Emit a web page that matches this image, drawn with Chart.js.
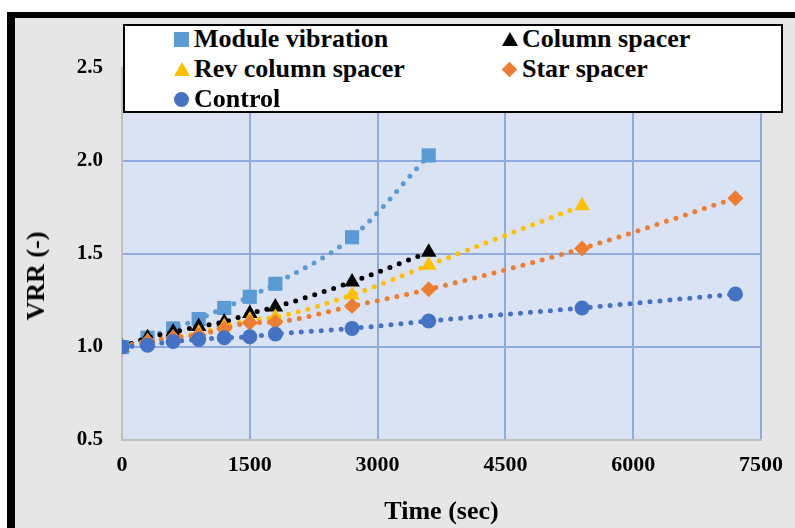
<!DOCTYPE html>
<html>
<head>
<meta charset="utf-8">
<script src="https://cdn.jsdelivr.net/npm/chart.js@4.4.1/dist/chart.umd.min.js"></script>
<style>
    body { margin: 0; background: #fff; font-family: "Liberation Serif", "Times New Roman", serif; }
    #frame { position: absolute; left: 7px; top: 12px; width: 800px; height: 530px; background: #e7e6e6;
             border-left: 8px solid #000; border-top: 6px solid #000; }
    #wrap { position: absolute; left: 0; top: 0; width: 795px; height: 528px; }
    #ytitle { position: absolute; left: 36px; top: 276px; transform: translate(-50%, -50%) rotate(-90deg);
              font-weight: bold; font-size: 26px; white-space: nowrap; }
    #legend { position: absolute; left: 123px; top: 24px; width: 656px; height: 85px; background: #fff;
              border: 2px solid #000; }
    .item { position: absolute; font-weight: bold; font-size: 26px; line-height: 30px; white-space: nowrap; }
    .mk { position: absolute; }
</style>
</head>
<body>
<div id="frame"></div>
<div id="wrap"><canvas id="vrrChart"></canvas></div>
<div id="ytitle">VRR (-)</div>
<div id="legend"></div>

<script>
const timeSec = [0, 300, 600, 900, 1200, 1500, 1800, 2700, 3600, 5400, 7200];

const seriesNames = ["Module vibration", "Column spacer", "Rev column spacer", "Star spacer", "Control"];
const moduleVibration = [1.00, 1.05, 1.10, 1.15, 1.21, 1.27, 1.34, 1.59, 2.03];
const columnSpacer = [1.00, 1.05, 1.08, 1.11, 1.135, 1.18, 1.215, 1.35, 1.51];
const revColumnSpacer = [1.00, 1.03, 1.05, 1.075, 1.11, 1.145, 1.16, 1.28, 1.44, 1.76];
const starSpacer = [1.00, 1.03, 1.05, 1.065, 1.10, 1.13, 1.135, 1.22, 1.31, 1.53, 1.80];
const control = [1.00, 1.01, 1.03, 1.04, 1.05, 1.055, 1.07, 1.10, 1.14, 1.21, 1.285];

const xTicks = [0, 1500, 3000, 4500, 6000, 7500];
const yTicks = [0.5, 1.0, 1.5, 2.0, 2.5];

const colors = ["#5b9bd5", "#000000", "#ffc000", "#ed7d31", "#4472c4"];
const shapes = ["rect", "triangle", "triangle", "rectRot", "circle"];
const radii = [10, 9, 9, 8, 7.5];

const allValues = [moduleVibration, columnSpacer, revColumnSpacer, starSpacer, control];

const datasets = allValues.map((vals, i) => ({
    label: seriesNames[i],
    data: vals.map((v, j) => ({ x: timeSec[j], y: v })),
    showLine: true,
    borderColor: colors[i],
    backgroundColor: colors[i],
    borderWidth: 5,
    borderDash: [0, 10],
    borderCapStyle: "round",
    cubicInterpolationMode: "monotone",
    pointStyle: shapes[i],
    pointRadius: radii[i],
    pointBorderWidth: 0,
    order: 5 - i
}));

// light blue plot area
const plotBg = {
    id: "plotBg",
    beforeDraw(chart) {
        const { ctx, chartArea: a } = chart;
        ctx.save();
        ctx.fillStyle = "#dae3f3";
        ctx.fillRect(a.left, a.top, a.right - a.left, a.bottom - a.top);
        ctx.restore();
    }
};

const tickFont = { family: "'Liberation Serif', 'Times New Roman', serif", size: 22, weight: "bold" };

new Chart(document.getElementById("vrrChart").getContext("2d"), {
    type: "scatter",
    data: { datasets },
    options: {
        responsive: true,
        maintainAspectRatio: false,
        animation: false,
        events: [],
        layout: { padding: { top: 68, right: 28, left: 0, bottom: 0 } },
        plugins: {
            legend: { display: false },
            tooltip: { enabled: false }
        },
        scales: {
            x: {
                type: "linear",
                min: 0,
                max: 7500,
                afterBuildTicks: s => { s.ticks = xTicks.map(v => ({ value: v })); },
                afterFit: s => { s.height = 88; },
                ticks: { color: "#000", font: tickFont, padding: 12, maxRotation: 0, callback: v => String(v) },
                grid: {
                    drawTicks: false,
                    lineWidth: 2,
                    color: c => (c.tick && c.tick.value === 0 ? "rgba(0,0,0,0)" : "#8faadc")
                },
                border: { color: "#bfbfbf", width: 2 },
                title: {
                    display: true,
                    text: "Time (sec)",
                    color: "#000",
                    font: { family: "'Liberation Serif', 'Times New Roman', serif", size: 26, weight: "bold" },
                    padding: { top: 0, bottom: 0 }
                }
            },
            y: {
                min: 0.5,
                max: 2.5,
                afterBuildTicks: s => { s.ticks = yTicks.map(v => ({ value: v })); },
                afterFit: s => { s.width = 122; },
                ticks: { color: "#000", font: { ...tickFont, size: 21 }, padding: 19, callback: v => v.toFixed(1) },
                grid: {
                    drawTicks: false,
                    lineWidth: 2,
                    color: c => (c.tick && c.tick.value === 0.5 ? "rgba(0,0,0,0)" : "#8faadc")
                },
                border: { color: "#bfbfbf", width: 2 }
            }
        }
    },
    plugins: [plotBg]
});

// legend box drawn over the top of the plot
const legend = document.getElementById("legend");
const legendPos = [[57, 0], [385, 0], [57, 1], [385, 1], [57, 2]];
seriesNames.forEach((name, i) => {
    const [lx, row] = legendPos[i];
    const cy = 13 + row * 30;
    const mk = document.createElement("div");
    mk.className = "mk";
    if (shapes[i] === "rect") {
        Object.assign(mk.style, { left: (lx - 8) + "px", top: (cy - 7) + "px", width: "15px", height: "15px", background: colors[i] });
    } else if (shapes[i] === "triangle") {
        Object.assign(mk.style, { left: (lx - 8) + "px", top: (cy - 7) + "px", width: 0, height: 0,
            borderLeft: "8px solid transparent", borderRight: "8px solid transparent", borderBottom: "14px solid " + colors[i] });
    } else if (shapes[i] === "rectRot") {
        Object.assign(mk.style, { left: (lx - 6) + "px", top: (cy - 5) + "px", width: "11px", height: "11px",
            background: colors[i], transform: "rotate(45deg)" });
    } else {
        Object.assign(mk.style, { left: (lx - 8) + "px", top: (cy - 7) + "px", width: "15px", height: "15px",
            background: colors[i], borderRadius: "50%" });
    }
    legend.appendChild(mk);
    const t = document.createElement("div");
    t.className = "item";
    t.style.left = (lx + 12) + "px";
    t.style.top = (cy - 15) + "px";
    t.textContent = name;
    legend.appendChild(t);
});
</script>
</body>
</html>
